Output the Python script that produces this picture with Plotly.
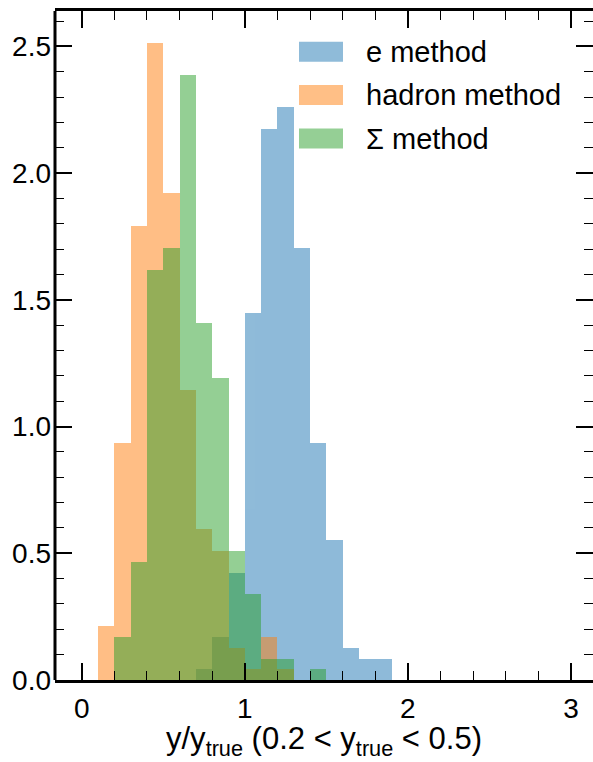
import plotly.graph_objects as go

# ---- data (density histograms, bin width 0.1) ----
bin_lefts = [0.1, 0.2, 0.3, 0.4, 0.5, 0.6, 0.7, 0.8, 0.9, 1.0,
             1.1, 1.2, 1.3, 1.4, 1.5, 1.6, 1.7, 1.8]
bin_width = 0.1
e_method = [0, 0, 0, 0, 0, 0, 0.042, 0.169, 0.423, 1.450,
            2.174, 2.261, 1.705, 0.935, 0.554, 0.126, 0.084, 0.084]
hadron_method = [0.214, 0.935, 1.791, 2.515, 1.920, 1.146, 0.594, 0.511, 0.126, 0.042,
                 0.169, 0.042, 0, 0, 0, 0, 0, 0]
sigma_method = [0, 0.169, 0.465, 1.617, 1.705, 2.387, 1.409, 1.192, 0.511, 0.338,
                0.084, 0.084, 0, 0.042, 0, 0, 0, 0]

series_names = ["e method", "hadron method", "Σ method"]
series_colors = ["#1f77b4", "#ff7f0e", "#2ca02c"]
series_values = [e_method, hadron_method, sigma_method]

x_ticks = [0, 1, 2, 3]
y_ticks = [0.0, 0.5, 1.0, 1.5, 2.0, 2.5]
y_tick_labels = ["0.0", "0.5", "1.0", "1.5", "2.0", "2.5"]
x_title = "y/y<sub>true</sub> (0.2 &lt; y<sub>true</sub> &lt; 0.5)"

# ---- figure geometry ----
W, H = 593, 762
ML, MR, MT, MB = 55, 0, 11, 82
FONT = "Liberation Sans, Arial, Helvetica, sans-serif"

centers = [round(b + bin_width / 2, 3) for b in bin_lefts]

fig = go.Figure()
for name, color, vals in zip(series_names, series_colors, series_values):
    fig.add_trace(go.Bar(
        x=centers, y=vals, width=bin_width, name=name,
        marker=dict(color=color, line=dict(width=0)),
        opacity=0.5, showlegend=False,
    ))

axis_common = dict(
    ticks="inside", ticklen=17, tickwidth=1.5, tickcolor="black",
    mirror="allticks", showgrid=False, zeroline=False,
    tickfont=dict(family=FONT, size=28, color="black"),
)

fig.update_layout(
    width=W, height=H,
    margin=dict(l=ML, r=MR, t=MT, b=MB, pad=0),
    paper_bgcolor="white", plot_bgcolor="white",
    barmode="overlay", bargap=0,
    font=dict(family=FONT, color="black"),
    xaxis=dict(
        range=[-0.164, 3.135], tickvals=x_ticks,
        showline=True, linewidth=3, linecolor="black",
        minor=dict(dtick=0.2, tick0=0, ticks="inside", ticklen=9,
                   tickwidth=1.2, tickcolor="black"),
        ticklabelstandoff=1,
        **axis_common,
    ),
    yaxis=dict(
        range=[0, 2.64], tickvals=y_ticks, ticktext=y_tick_labels,
        showline=False,
        minor=dict(dtick=0.1, tick0=0, ticks="inside", ticklen=9,
                   tickwidth=1.2, tickcolor="black"),
        ticklabelstandoff=3,
        **axis_common,
    ),
)

# left spine (right spine lies outside the cropped picture)
fig.add_shape(type="line", xref="paper", yref="paper", x0=0, x1=0, y0=0, y1=1,
              line=dict(color="black", width=3))

pw = W - ML - MR
ph = H - MT - MB


def px_x(p):
    return (p - ML) / pw


def px_y(p):
    return (H - MB - p) / ph


# x-axis title
fig.add_annotation(xref="paper", yref="paper", x=0.5, y=px_y(763),
                   text=x_title, showarrow=False, xanchor="center", yanchor="bottom",
                   font=dict(family=FONT, size=31, color="black"))

# ---- legend drawn as patches + text ----
row_centers = [51.7, 95.0, 138.5]
for name, color, yc in zip(series_names, series_colors, row_centers):
    fig.add_shape(type="rect", xref="paper", yref="paper",
                  x0=px_x(299), x1=px_x(343), y0=px_y(yc + 10), y1=px_y(yc - 10),
                  fillcolor=color, opacity=0.5, line=dict(width=0))
    fig.add_annotation(xref="paper", yref="paper", x=px_x(364), y=px_y(yc),
                       text=name, showarrow=False, xanchor="left", yanchor="middle",
                       font=dict(family=FONT, size=29, color="black"))

fig.write_html("out.html")
